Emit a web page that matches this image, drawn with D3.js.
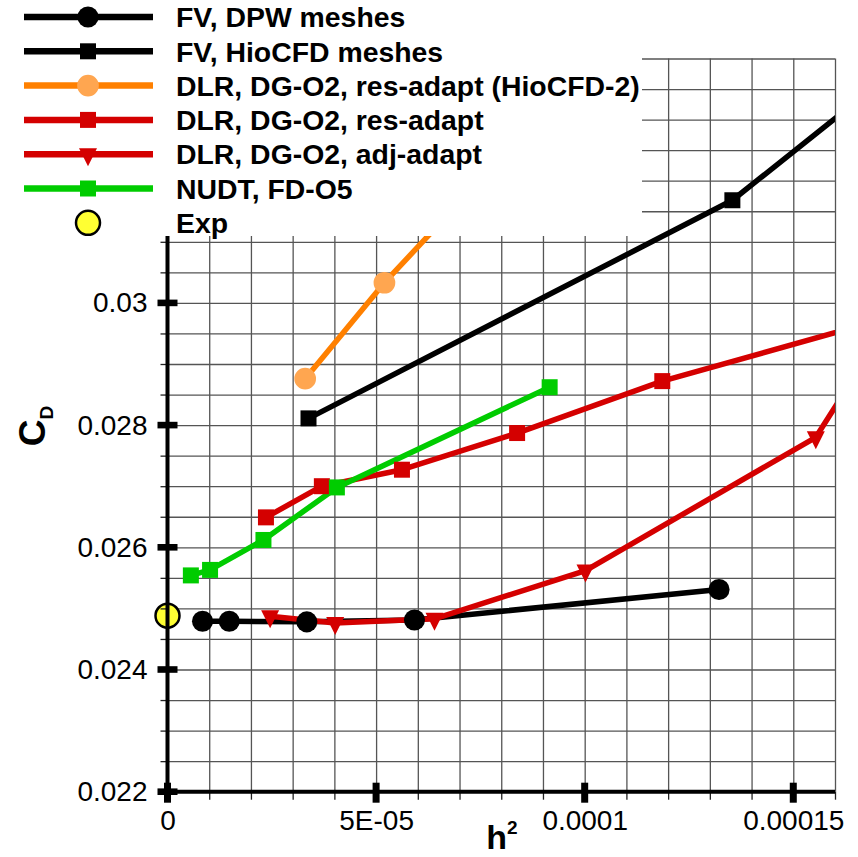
<!DOCTYPE html>
<html>
<head>
<meta charset="utf-8">
<script src="https://cdn.jsdelivr.net/npm/d3@7"></script>
<style>
  body { margin: 0; background: #fff; }
  text { font-family: "Liberation Sans", Arial, Helvetica, sans-serif; }
</style>
</head>
<body>
<div id="chart"></div>
<script>
// values (h^2 vs C_D)
var fvDpwH2 = [8.4e-6, 1.48e-5, 3.34e-5, 5.92e-5, 1.322e-4];
var fvDpwCd = [0.02479, 0.02479, 0.02478, 0.02481, 0.02531];

var fvHioH2 = [3.38e-5, 1.354e-4, 2.0e-4];
var fvHioCd = [0.02811, 0.03168, 0.03519];

var dlrHioH2 = [3.30e-5, 5.20e-5, 8.0e-5];
var dlrHioCd = [0.02876, 0.03033, 0.03238];

var dlrResH2 = [2.36e-5, 3.70e-5, 5.62e-5, 8.38e-5, 1.186e-4, 2.0e-4];
var dlrResCd = [0.02649, 0.02700, 0.02727, 0.02787, 0.02872, 0.03028];

var dlrAdjH2 = [2.46e-5, 4.02e-5, 6.40e-5, 1.002e-4, 1.554e-4, 1.7e-4];
var dlrAdjCd = [0.02487, 0.02476, 0.02483, 0.02562, 0.02780, 0.02937];

var nudtH2 = [5.6e-6, 1.02e-5, 2.30e-5, 4.06e-5, 9.16e-5];
var nudtCd = [0.02554, 0.02563, 0.02612, 0.02698, 0.02862];

var expH2 = [0];
var expCd = [0.02488];

var xTickValues = [0, 5e-5, 1e-4, 1.5e-4];
var xTickLabels = ["0", "5E-05", "0.0001", "0.00015"];
var yTickValues = [0.022, 0.024, 0.026, 0.028, 0.03];
var yTickLabels = ["0.022", "0.024", "0.026", "0.028", "0.03"];

// SVG dimensions
var svgWidth = 858;
var svgHeight = 857;

var plot = { left: 167.5, right: 835, top: 58.5, bottom: 791.7 };

var svg = d3.select("#chart")
  .append("svg")
  .attr("width", svgWidth)
  .attr("height", svgHeight);

svg.append("rect")
  .attr("width", svgWidth)
  .attr("height", svgHeight)
  .attr("fill", "#fff");

var xScale = d3.scaleLinear()
  .domain([0, 0.00016])
  .range([plot.left, plot.right]);

var yScale = d3.scaleLinear()
  .domain([0.022, 0.034])
  .range([plot.bottom, plot.top]);

function zip(xs, ys) {
  return xs.map(function(x, i) { return { x: x, y: ys[i] }; });
}

var triDown = {
  draw: function(ctx, size) {
    var s = Math.sqrt(size);
    ctx.moveTo(-s / 2, -s / 3);
    ctx.lineTo(s / 2, -s / 3);
    ctx.lineTo(0, 2 * s / 3);
    ctx.closePath();
  }
};

var series = [
  { name: "FV, DPW meshes", data: zip(fvDpwH2, fvDpwCd), line: "#000", fill: "#000", shape: d3.symbolCircle, size: 350 },
  { name: "FV, HioCFD meshes", data: zip(fvHioH2, fvHioCd), line: "#000", fill: "#000", shape: d3.symbolSquare, size: 256 },
  { name: "DLR, DG-O2, res-adapt (HioCFD-2)", data: zip(dlrHioH2, dlrHioCd), line: "#ff8000", fill: "#ffa650", shape: d3.symbolCircle, size: 370 },
  { name: "DLR, DG-O2, res-adapt", data: zip(dlrResH2, dlrResCd), line: "#d40000", fill: "#d40000", shape: d3.symbolSquare, size: 256 },
  { name: "DLR, DG-O2, adj-adapt", data: zip(dlrAdjH2, dlrAdjCd), line: "#d40000", fill: "#d40000", shape: triDown, size: 324 },
  { name: "NUDT, FD-O5", data: zip(nudtH2, nudtCd), line: "#00cc00", fill: "#00cc00", shape: d3.symbolSquare, size: 256 }
];

// grid
var gridX = d3.range(0, 17).map(function(i) { return i * 1e-5; });
var gridY = d3.range(0, 25).map(function(i) { return 0.022 + i * 0.0005; });

svg.append("g")
  .attr("transform", `translate(0, ${plot.bottom})`)
  .call(d3.axisBottom(xScale).tickValues(gridX).tickSize(-(plot.bottom - plot.top)).tickFormat(""))
  .call(function(g) { g.select(".domain").remove(); })
  .selectAll("line").attr("stroke", "#555").attr("stroke-width", 1.3);

svg.append("g")
  .attr("transform", `translate(${plot.left}, 0)`)
  .call(d3.axisLeft(yScale).tickValues(gridY).tickSize(-(plot.right - plot.left)).tickFormat(""))
  .call(function(g) { g.select(".domain").remove(); })
  .selectAll("line").attr("stroke", "#555").attr("stroke-width", 1.3);

// clip lines to the frame
svg.append("clipPath")
  .attr("id", "frame")
  .append("rect")
  .attr("x", plot.left)
  .attr("y", plot.top)
  .attr("width", plot.right - plot.left)
  .attr("height", plot.bottom - plot.top);

var line = d3.line()
  .x(function(d) { return xScale(d.x); })
  .y(function(d) { return yScale(d.y); });

var dataGroup = svg.append("g");

series.forEach(function(s) {
  dataGroup.append("path")
    .datum(s.data)
    .attr("clip-path", "url(#frame)")
    .attr("fill", "none")
    .attr("stroke", s.line)
    .attr("stroke-width", 5.5)
    .attr("stroke-linejoin", "round")
    .attr("d", line);
});

function inRange(d) {
  return d.x >= 0 && d.x <= 0.00016 && d.y >= 0.022 && d.y <= 0.034;
}

series.forEach(function(s) {
  dataGroup.selectAll(null)
    .data(s.data.filter(inRange))
    .enter()
    .append("path")
    .attr("transform", function(d) { return `translate(${xScale(d.x)}, ${yScale(d.y)})`; })
    .attr("d", d3.symbol(s.shape, s.size))
    .attr("fill", s.fill);
});

dataGroup.selectAll(null)
  .data(zip(expH2, expCd))
  .enter()
  .append("circle")
  .attr("cx", function(d) { return xScale(d.x); })
  .attr("cy", function(d) { return yScale(d.y); })
  .attr("r", 12)
  .attr("fill", "#ffff33")
  .attr("stroke", "#000")
  .attr("stroke-width", 2.5);

// minor ticks
var minorX = gridX;
var minorY = gridY;

svg.append("g")
  .attr("transform", `translate(0, ${plot.bottom})`)
  .call(d3.axisBottom(xScale).tickValues(minorX).tickSize(8).tickFormat(""))
  .call(function(g) { g.select(".domain").remove(); })
  .selectAll("line").attr("stroke", "#222").attr("stroke-width", 1.3);

svg.append("g")
  .attr("transform", `translate(${plot.left}, 0)`)
  .call(d3.axisLeft(yScale).tickValues(minorY).tickSize(7).tickFormat(""))
  .call(function(g) { g.select(".domain").remove(); })
  .selectAll("line").attr("stroke", "#222").attr("stroke-width", 1.3);

// axis lines
svg.append("line")
  .attr("x1", plot.left).attr("x2", plot.right)
  .attr("y1", plot.bottom).attr("y2", plot.bottom)
  .attr("stroke", "#000").attr("stroke-width", 4);

svg.append("line")
  .attr("x1", plot.left).attr("x2", plot.left)
  .attr("y1", plot.top).attr("y2", plot.bottom)
  .attr("stroke", "#000").attr("stroke-width", 4);

// major ticks
svg.selectAll(null)
  .data(xTickValues)
  .enter()
  .append("rect")
  .attr("x", function(d) { return xScale(d) - 3.5; })
  .attr("y", plot.bottom - 9)
  .attr("width", 7)
  .attr("height", 20)
  .attr("fill", "#000");

svg.selectAll(null)
  .data(yTickValues)
  .enter()
  .append("rect")
  .attr("x", plot.left - 10)
  .attr("y", function(d) { return yScale(d) - 3.3; })
  .attr("width", 20)
  .attr("height", 6.6)
  .attr("fill", "#000");

// tick labels
var xAxis = svg.append("g")
  .attr("transform", `translate(0, ${plot.bottom})`)
  .call(d3.axisBottom(xScale).tickValues(xTickValues).tickSize(0).tickPadding(18)
    .tickFormat(function(d, i) { return xTickLabels[i]; }));
xAxis.select(".domain").remove();
xAxis.selectAll("text")
  .attr("fill", "#000")
  .style("font-size", "28px")
  .style("font-family", "'Liberation Sans', Arial, sans-serif");

var yAxis = svg.append("g")
  .attr("transform", `translate(${plot.left}, 0)`)
  .call(d3.axisLeft(yScale).tickValues(yTickValues).tickSize(0).tickPadding(20)
    .tickFormat(function(d, i) { return yTickLabels[i]; }));
yAxis.select(".domain").remove();
yAxis.selectAll("text")
  .attr("fill", "#000")
  .style("font-size", "28px")
  .style("font-family", "'Liberation Sans', Arial, sans-serif");

// axis titles
var yTitle = svg.append("text")
  .attr("transform", "translate(45, 426) rotate(-90)")
  .attr("text-anchor", "middle")
  .style("font-weight", "bold")
  .style("font-size", "37px");
yTitle.append("tspan").text("C");
yTitle.append("tspan").attr("dy", 8).style("font-size", "19px").text("D");

var xTitle = svg.append("text")
  .attr("x", 502)
  .attr("y", 849)
  .attr("text-anchor", "middle")
  .style("font-weight", "bold")
  .style("font-size", "34px");
xTitle.append("tspan").text("h");
xTitle.append("tspan").attr("dy", -15).style("font-size", "19px").text("2");

// legend
var legend = svg.append("g");

legend.append("rect")
  .attr("x", 0).attr("y", 0)
  .attr("width", 642).attr("height", 236)
  .attr("fill", "#fff");

var rowY = function(i) { return 17 + i * 34.3; };

series.forEach(function(s, i) {
  legend.append("line")
    .attr("x1", 24).attr("x2", 153)
    .attr("y1", rowY(i)).attr("y2", rowY(i))
    .attr("stroke", s.line)
    .attr("stroke-width", 6.5);
  legend.append("path")
    .attr("transform", `translate(88, ${rowY(i)})`)
    .attr("d", d3.symbol(s.shape, s.size))
    .attr("fill", s.fill);
  legend.append("text")
    .attr("x", 176)
    .attr("y", rowY(i))
    .attr("dy", "0.36em")
    .style("font-weight", "bold")
    .style("font-size", "28.4px")
    .text(s.name);
});

legend.append("circle")
  .attr("cx", 88).attr("cy", rowY(6))
  .attr("r", 12)
  .attr("fill", "#ffff33")
  .attr("stroke", "#000")
  .attr("stroke-width", 2.5);

legend.append("text")
  .attr("x", 176)
  .attr("y", rowY(6))
  .attr("dy", "0.36em")
  .style("font-weight", "bold")
  .style("font-size", "28.4px")
  .text("Exp");
</script>
</body>
</html>
